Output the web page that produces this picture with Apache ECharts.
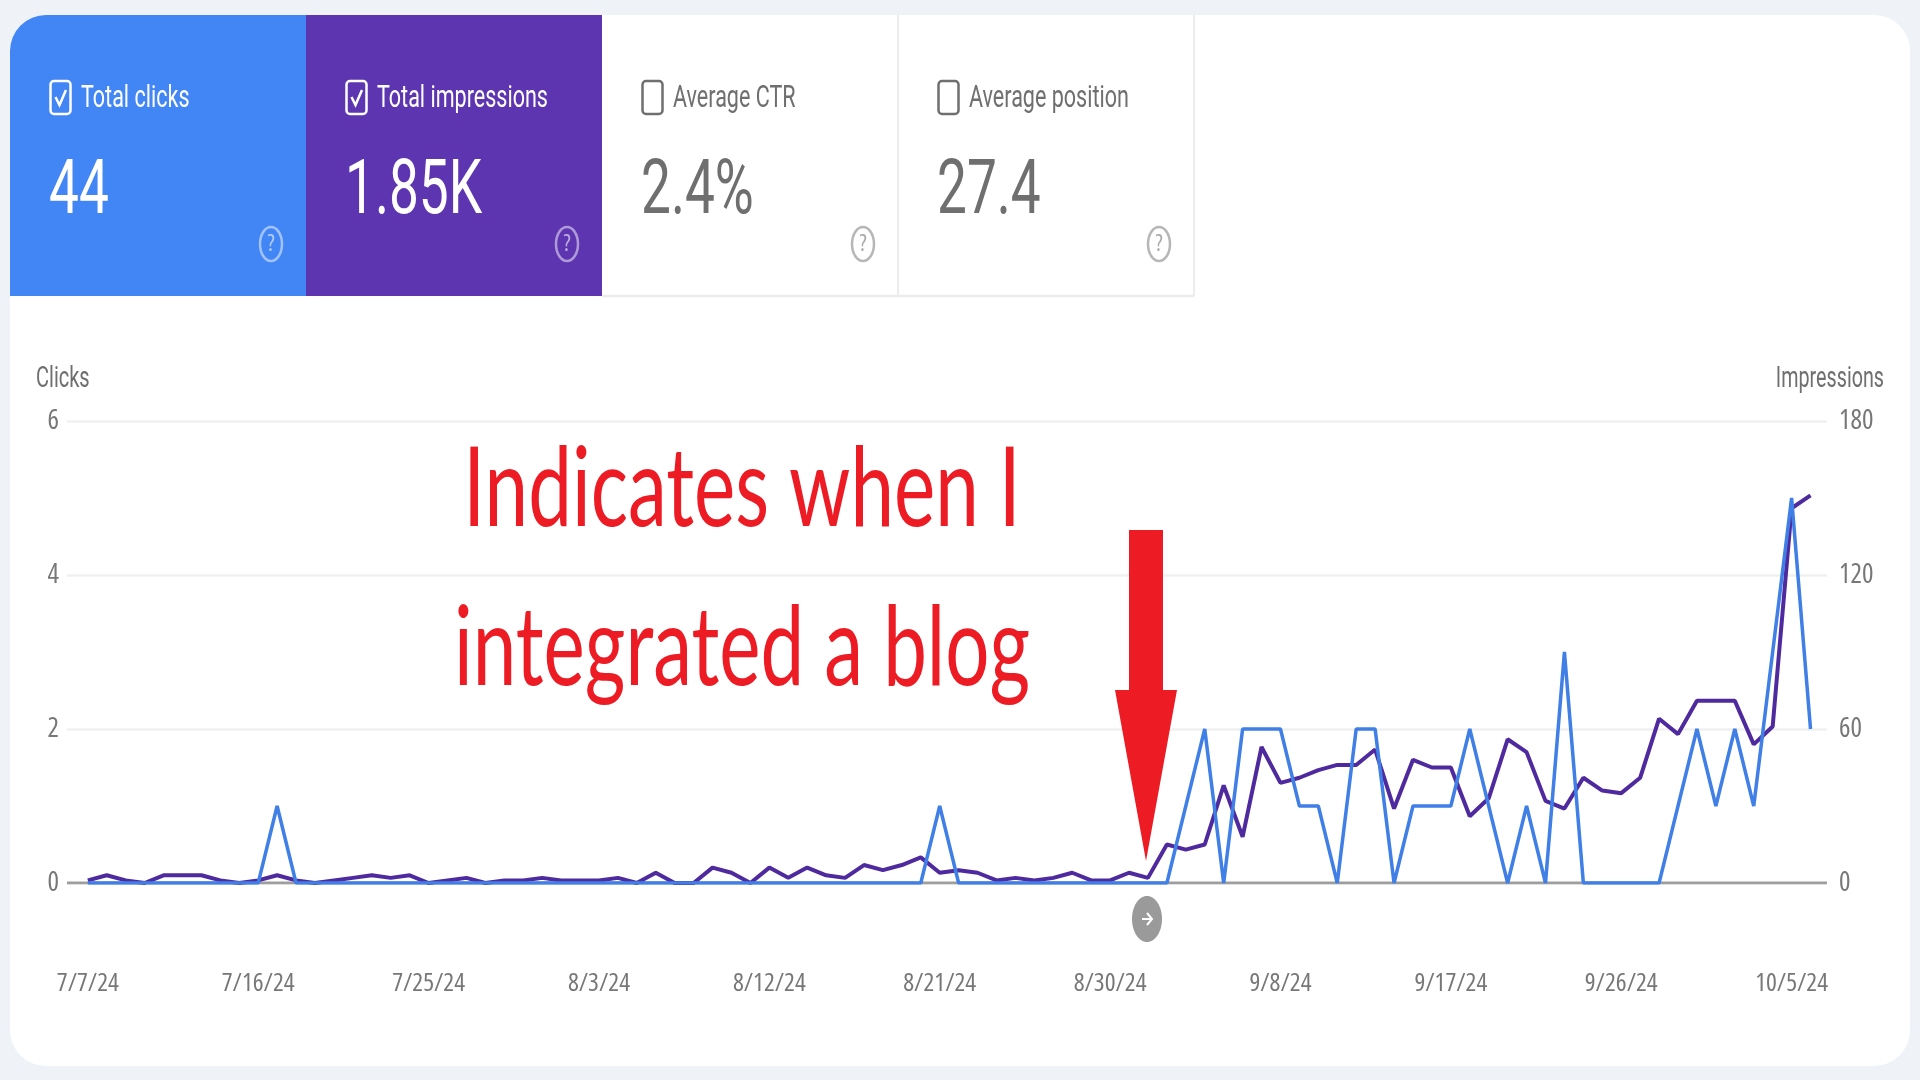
<!DOCTYPE html>
<html><head><meta charset="utf-8">
<style>html,body{margin:0;padding:0;background:#eff3f8}#c{width:1920px;height:1080px}</style>
<script src="https://cdn.jsdelivr.net/npm/echarts@6/dist/echarts.min.js"></script>
</head><body><div id="c"></div>
<script>
const tickDays = [0,9,18,27,36,45,54,63,72,81,90];
const tickLabels = ['7/7/24','7/16/24','7/25/24','8/3/24','8/12/24','8/21/24','8/30/24','9/8/24','9/17/24','9/26/24','10/5/24'];
const clicks = [0,0,0,0,0,0,0,0,0,0,1,0,0,0,0,0,0,0,0,0,0,0,0,0,0,0,0,0,0,0,0,0,0,0,0,0,0,0,0,0,0,0,0,0,0,1,0,0,0,0,0,0,0,0,0,0,0,0,1,2,0,2,2,2,1,1,0,2,2,0,1,1,1,2,1,0,1,0,3,0,0,0,0,0,1,2,1,2,1,3,5,2];
const impressions = [1,3,1,0,3,3,3,1,0,1,3,1,0,1,2,3,2,3,0,1,2,0,1,1,2,1,1,1,2,0,4,0,0,6,4,0,6,2,6,3,2,7,5,7,10,4,5,4,1,2,1,2,4,1,1,4,2,15,13,15,38,18,53,39,41,44,46,46,52,29,48,45,45,26,33,56,51,32,29,41,36,35,41,64,58,71,71,71,54,61,146,151];
const cards = [
  {title:'Total clicks', value:'44', x:10, fill:'#4285f4', fg:'#ffffff', on:true},
  {title:'Total impressions', value:'1.85K', x:306, fill:'#5e35b1', fg:'#ffffff', on:true},
  {title:'Average CTR', value:'2.4%', x:602, fill:'#ffffff', fg:'#6f6f6f', on:false},
  {title:'Average position', value:'27.4', x:898, fill:'#ffffff', fg:'#6f6f6f', on:false}
];
const annotation = ['Indicates when I','integrated a blog'];
const LABEL = '"Open Sans",sans-serif';
const g = [];
g.push({type:'rect',z:-10,shape:{x:10,y:15,width:1900,height:1051,r:36},style:{fill:'#fff'}});
cards.forEach((c,i)=>{
  const r = i===0 ? [36,0,0,0] : 0;
  g.push({type:'rect',z:1,shape:{x:c.x,y:15,width:296,height:281,r},style:{fill:c.fill}});
  if(c.fill==='#ffffff'){
    g.push({type:'line',z:2,shape:{x1:c.x+296,y1:15,x2:c.x+296,y2:296},style:{stroke:'#ececec',lineWidth:2}});
    g.push({type:'line',z:2,shape:{x1:c.x,y1:296,x2:c.x+296,y2:296},style:{stroke:'#ececec',lineWidth:2.5}});
  }
  g.push({type:'rect',z:3,shape:{x:c.x+40.5,y:81,width:20,height:33,r:3.5},style:{fill:'none',stroke:c.fg,lineWidth:2.5}});
  if(c.on) g.push({type:'polyline',z:3,shape:{points:[[c.x+45.5,97],[c.x+49.5,105],[c.x+56,90]]},style:{fill:'none',stroke:c.fg,lineWidth:2.5}});
  g.push({type:'text',z:3,x:c.x+71,y:99,scaleX:.695,style:{text:c.title,font:'400 31px Roboto,sans-serif',fill:c.fg,verticalAlign:'middle'}});
  g.push({type:'text',z:3,x:c.x+39,y:194,scaleX:.70,style:{text:c.value,font:'400 76px Roboto,sans-serif',fill:c.fg,verticalAlign:'middle'}});
  g.push({type:'ellipse',z:3,shape:{cx:c.x+261,cy:244,rx:11,ry:17},style:{fill:'none',stroke:c.fg,opacity:.5,lineWidth:2.5}});
  g.push({type:'text',z:3,x:c.x+261,y:244,style:{text:'?',font:'condensed 400 23px '+LABEL,fill:c.fg,opacity:.6,align:'center',verticalAlign:'middle'}});
});
g.push({type:'text',x:36,y:380,scaleX:.69,style:{text:'Clicks',font:'400 29px Roboto,sans-serif',fill:'#6f6f6f',verticalAlign:'middle'}});
g.push({type:'text',x:1884,y:380,scaleX:.68,style:{text:'Impressions',font:'400 29px Roboto,sans-serif',fill:'#6f6f6f',align:'right',verticalAlign:'middle'}});
annotation.forEach((t,i)=>{
  g.push({type:'text',z:20,x:742,y:[491,650][i],scaleX:.71,style:{text:t,font:'400 110px Lato,sans-serif',fill:'#ed1c24',align:'center',verticalAlign:'middle'}});
});
g.push({type:'polygon',z:20,shape:{points:[[1129,530],[1163,530],[1163,690],[1177,690],[1146,861],[1115,690],[1129,690]]},style:{fill:'#ed1c24'}});
g.push({type:'ellipse',z:20,shape:{cx:1147,cy:919,rx:15,ry:23},style:{fill:'#9a9a9a'}});
g.push({type:'polyline',z:21,shape:{points:[[1142,919],[1152,919]]},style:{stroke:'#fff',lineWidth:2,fill:'none'}});
g.push({type:'polyline',z:21,shape:{points:[[1147,913],[1152,919],[1147,925]]},style:{stroke:'#fff',lineWidth:2,fill:'none'}});

const tickFont = {color:'#777',fontFamily:LABEL,fontWeight:'condensed',fontSize:27};
const chart = echarts.init(document.getElementById('c'),null,{renderer:'canvas'});
chart.setOption({
  animation:false,
  backgroundColor:'#eff3f8',
  grid:{left:67,right:93,top:421,bottom:197,containLabel:false},
  xAxis:{type:'value',min:-1.1,max:91.87,
    axisLine:{show:false},axisTick:{show:false},splitLine:{show:false},
    axisLabel:Object.assign({customValues:tickDays,margin:88,
      formatter:v=>tickLabels[tickDays.indexOf(v)]||''},tickFont,{fontSize:25.5})},
  yAxis:[
    {type:'value',min:0,max:6,interval:2,
      axisLine:{show:false},axisTick:{show:false},
      splitLine:{lineStyle:{color:'#f0f0f0',width:2.5}},
      axisLabel:Object.assign({margin:8,padding:[5,0,0,0]},tickFont)},
    {type:'value',min:0,max:180,interval:60,position:'right',
      axisLine:{show:false},axisTick:{show:false},splitLine:{show:false},
      axisLabel:Object.assign({margin:12,padding:[5,0,0,0]},tickFont)}
  ],
  series:[
    {type:'line',name:'Baseline',silent:true,data:[[-1.1,0],[91.87,0]],symbol:'none',lineStyle:{color:'#9e9e9e',width:3},z:1},
    {type:'line',name:'Impressions',yAxisIndex:1,data:impressions.map((v,i)=>[i,v]),symbol:'none',lineStyle:{color:'#4f2a9e',width:4},z:2},
    {type:'line',name:'Clicks',yAxisIndex:0,data:clicks.map((v,i)=>[i,v]),symbol:'none',lineStyle:{color:'#3f7fe6',width:3.5},z:3}
  ],
  graphic:g
});
</script></body></html>
